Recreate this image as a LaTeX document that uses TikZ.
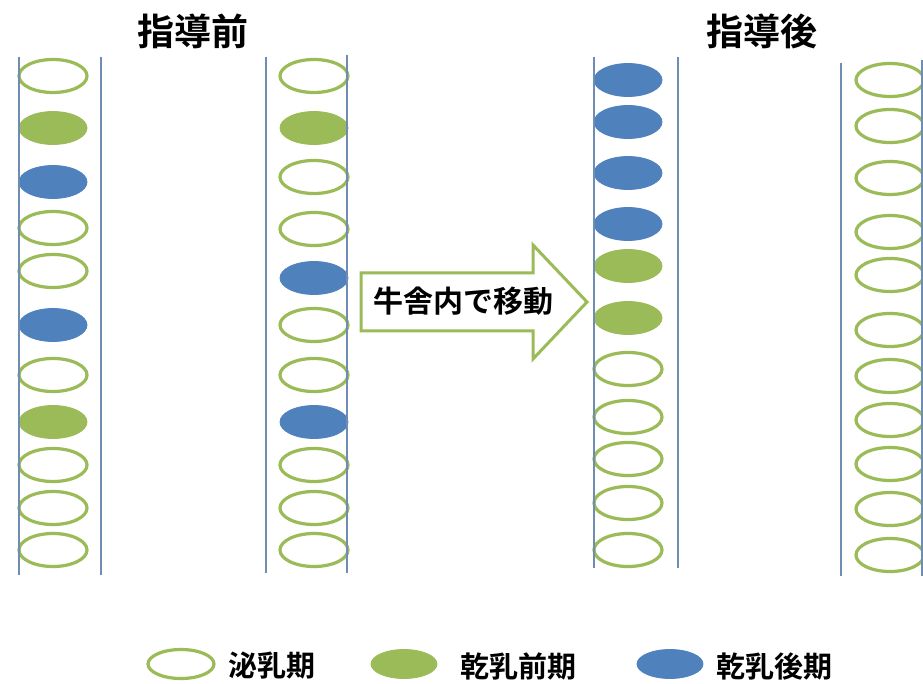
\documentclass[tikz,border=0pt]{standalone}
\usepackage{fontspec}
\newfontfamily\cjk{Noto Sans CJK JP}[BoldFont={Noto Sans CJK JP Bold}]
\usetikzlibrary{shapes.geometric}
\definecolor{ogreen}{HTML}{9BBB59}
\definecolor{oblue}{HTML}{4F81BD}
\definecolor{colline}{HTML}{6F8DB3}
\begin{document}
\begin{tikzpicture}[x=1pt,y=-1pt,
  cow/.style={ellipse,minimum width=68pt,minimum height=33pt,inner sep=0pt},
  lact/.style={cow,draw=ogreen,line width=3.2pt,fill=white},
  predry/.style={cow,draw=ogreen,line width=0.8pt,fill=ogreen},
  postdry/.style={cow,draw=oblue,line width=0.8pt,fill=oblue},
  stall/.style={draw=colline,line width=1.3pt},
  title/.style={font=\cjk\bfseries\fontsize{37}{39}\selectfont,inner sep=0pt},
  legtext/.style={font=\cjk\bfseries\fontsize{29}{31}\selectfont,inner sep=0pt,anchor=west},
  legcow/.style={minimum width=66pt,minimum height=29pt}]
\useasboundingbox[fill=white] (0,0) rectangle (923,684);

% titles
\node[title] (before) at (193,31) {指導前};
\node[title] (after) at (762,31) {指導後};

% column 1
\foreach \y/\s [count=\i] in {76/lact,128/predry,182/postdry,228/lact,271/lact,325/postdry,375/lact,422/predry,465/lact,508/lact,550/lact}
  \node[\s] (a\i) at (53,\y) {};
% column 2
\foreach \y/\s [count=\i] in {76/lact,128/predry,177/lact,229/lact,278/postdry,325/lact,375/lact,422/postdry,465/lact,508/lact,550/lact}
  \node[\s] (b\i) at (314,\y) {};
% column 3
\foreach \y/\s [count=\i] in {80/postdry,122/postdry,173/postdry,224/postdry,266/predry,318/predry,369/lact,417/lact,459/lact,503/lact,550/lact}
  \node[\s] (c\i) at (628,\y) {};
% column 4
\foreach \y/\s [count=\i] in {80/lact,126/lact,178/lact,232/lact,275/lact,330/lact,376/lact,420/lact,464/lact,509/lact,555/lact}
  \node[\s] (d\i) at (890,\y) {};

% stall lines
\coordinate (a1t) at (19,57);  \coordinate (a1b) at (19,575);
\coordinate (a2t) at (101,57); \coordinate (a2b) at (101,575);
\coordinate (b1t) at (266,57); \coordinate (b1b) at (266,573);
\coordinate (b2t) at (347,55); \coordinate (b2b) at (347,573);
\coordinate (c1t) at (594,57); \coordinate (c1b) at (594,568);
\coordinate (c2t) at (678,57); \coordinate (c2b) at (678,568);
\coordinate (d1t) at (841,63); \coordinate (d1b) at (841,576);
\coordinate (d2t) at (922,60); \coordinate (d2b) at (922,576);
\foreach \n in {a1,a2,b1,b2,c1,c2,d1,d2}
  \draw[stall] (\n t) -- (\n b);

% arrow
\draw[draw=ogreen,line width=3pt,fill=white,line join=miter]
  (361,273) -- (533,273) -- (533,245) -- (587,302) -- (533,359) -- (533,331) -- (361,331) -- cycle;
\node[font=\cjk\bfseries\fontsize{30}{32}\selectfont,inner sep=0pt] (move) at (463,301) {牛舎内で移動};

% legend
\node[lact,legcow] (l1) at (181,664) {};
\node[legtext] (t1) at (228,666) {泌乳期};
\node[predry,legcow] (l2) at (404,664) {};
\node[legtext] (t2) at (460,666) {乾乳前期};
\node[postdry,legcow] (l3) at (670,664) {};
\node[legtext] (t3) at (716,666) {乾乳後期};
\end{tikzpicture}
\end{document}
